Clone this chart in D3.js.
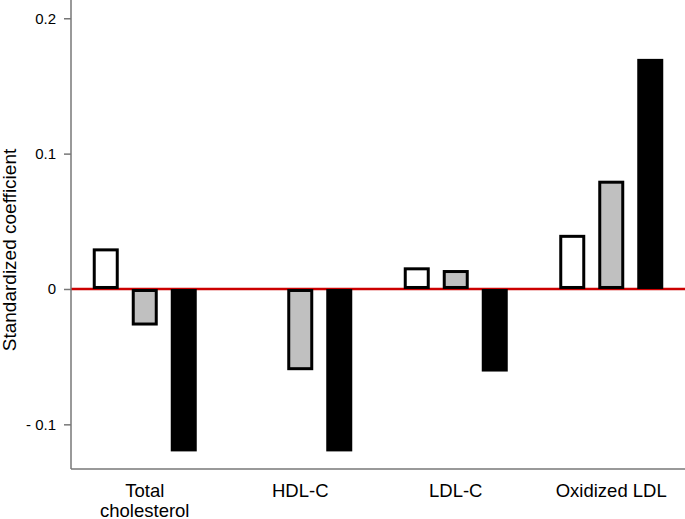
<!DOCTYPE html>
<html><head><meta charset="utf-8">
<script src="https://cdn.jsdelivr.net/npm/d3@7"></script>
<style>body{margin:0;background:#fff}svg{display:block;font-family:"Liberation Sans",Arial,sans-serif}</style>
</head><body><svg id="c" width="685" height="519"></svg>
<script>
const categories = [["Total","cholesterol"],["HDL-C"],["LDL-C"],["Oxidized LDL"]];
const series = ["s1","s2","s3"];
const s1 = [0.030, null, 0.016, 0.040];
const s2 = [-0.027, -0.060, 0.014, 0.080];
const s3 = [-0.120, -0.120, -0.061, 0.170];
const yTicks = [-0.1, 0, 0.1, 0.2];
const yTickLabels = ["- 0.1", "0", "0.1", "0.2"];
const fills = {s1:"#ffffff", s2:"#c0c0c0", s3:"#000000"};

const svg = d3.select("#c");
const axisX = 71, axisBottom = 469;
const y = d3.scaleLinear().domain([-0.133, 0.2135]).range([469, 0]);
const x = d3.scaleBand().domain(categories.map((d,i)=>i)).range([67, 689]).padding(0);
const xs = d3.scaleBand().domain(series).range([x.bandwidth()/2 - 52, x.bandwidth()/2 + 52]).paddingInner(1/3).paddingOuter(0);

// zero line
svg.append("line").attr("x1", axisX).attr("x2", 685).attr("y1", y(0)).attr("y2", y(0))
  .attr("stroke", "#cc0000").attr("stroke-width", 2.5);

const vals = {s1, s2, s3};
const g = svg.append("g");
categories.forEach((c, i) => {
  series.forEach(s => {
    const v = vals[s][i];
    if (v === null) return;
    const x0 = x(i) + xs(s), w = xs.bandwidth();
    const yt = y(Math.max(0, v)), yb = y(Math.min(0, v));
    g.append("rect")
      .attr("x", x0 + 1.5).attr("y", yt + 1.5)
      .attr("width", w - 3).attr("height", Math.max(0, yb - yt - 3))
      .attr("fill", fills[s]).attr("stroke", "#000").attr("stroke-width", 3);
  });
});

// y axis
const yAxis = d3.axisLeft(y).tickValues(yTicks).tickSize(7).tickPadding(8)
  .tickFormat((d,i)=>yTickLabels[i]);
const ya = svg.append("g").attr("transform", `translate(${axisX},0)`).call(yAxis);
ya.select(".domain").remove();
ya.selectAll("line").attr("stroke", "#777").attr("stroke-width", 1.5);
ya.selectAll("text").attr("font-size", 15).attr("fill", "#000")
  .attr("font-family", "'Liberation Sans',Arial,sans-serif");
svg.append("line").attr("x1", axisX).attr("x2", axisX).attr("y1", 0).attr("y2", axisBottom)
  .attr("stroke", "#777").attr("stroke-width", 1.5);
svg.append("line").attr("x1", axisX).attr("x2", 685).attr("y1", axisBottom).attr("y2", axisBottom)
  .attr("stroke", "#777").attr("stroke-width", 1.5);

// x labels
categories.forEach((c, i) => {
  const t = svg.append("text").attr("text-anchor", "middle").attr("font-size", 18.5).attr("fill", "#000");
  c.forEach((line, j) => {
    t.append("tspan").attr("x", x(i) + x.bandwidth()/2).attr("y", 497 + j*20).text(line);
  });
});

// y label
svg.append("text").attr("transform", "translate(16,250) rotate(-90)")
  .attr("text-anchor", "middle").attr("font-size", 19).attr("fill", "#000")
  .text("Standardized coefficient");
</script></body></html>
